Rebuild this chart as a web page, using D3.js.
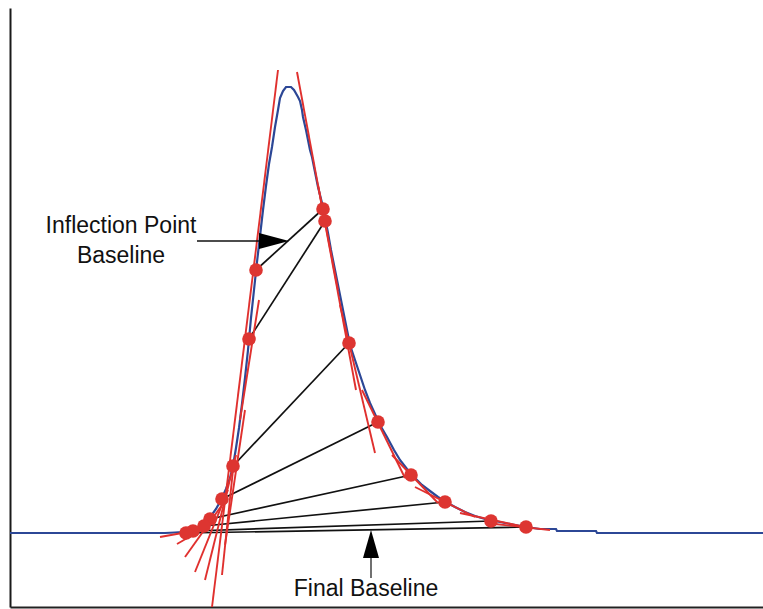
<!DOCTYPE html>
<html>
<head>
<meta charset="utf-8">
<script src="https://cdn.jsdelivr.net/npm/d3@7"></script>
<style>
  html, body { margin: 0; padding: 0; background: #fff; }
  svg { display: block; }
  text { font-family: "Liberation Sans", Arial, Helvetica, sans-serif; }
</style>
</head>
<body>
<svg id="chart" width="763" height="609"></svg>
<script>
// ---- data (time units on x, signal units on y; baseline = 0) ----
const signalX = [0, 15.5, 16.5, 17.2, 17.8, 18.5, 19.1, 19.6, 20.1, 20.6, 21.1, 21.6, 22.0, 22.3, 22.6, 22.9, 23.2, 23.5, 23.8, 24.1, 24.4, 24.7, 25.0, 25.3, 25.6, 25.9, 26.2, 26.5, 26.8, 27.0, 27.3, 27.6, 28.1, 28.4, 28.8, 29.0, 29.2, 29.3, 29.6, 29.8, 30.0, 30.2, 30.5, 30.8, 31.2, 31.5, 31.8, 32.1, 32.5, 32.9, 33.3, 33.7, 34.0, 34.5, 35.0, 35.5, 36.0, 36.5, 37.0, 37.7, 38.4, 39.0, 39.7, 40.4, 41.2, 42.0, 42.8, 43.6, 44.5, 45.5, 46.5, 47.5, 48.5, 49.5, 50.5, 51.6, 53.0, 54.6, 54.7, 58.6, 58.7, 75.3];
const signalY = [0, 0, 0.1, 0.2, 0.4, 0.8, 1.4, 2.2, 3.4, 4.8, 6.6, 8.8, 11.0, 13.4, 17.0, 21.0, 25.8, 31.0, 36.6, 43.0, 48.6, 54.2, 59.4, 64.6, 69.4, 73.8, 77.2, 81.2, 84.6, 87.0, 88.4, 89.2, 89.2, 88.6, 87.2, 86.4, 84.6, 83.2, 80.6, 78.6, 76.6, 75.2, 72.2, 69.2, 66.0, 63.0, 60.0, 56.6, 52.6, 48.6, 44.6, 40.6, 37.6, 34.6, 31.6, 28.6, 26.0, 23.8, 21.6, 19.2, 16.6, 14.6, 12.8, 11.2, 9.6, 8.4, 7.2, 6.2, 5.2, 4.2, 3.4, 2.8, 2.4, 2.0, 1.6, 1.2, 0.8, 0.8, 0.4, 0.4, 0, 0];

// candidate baseline end points (left side / right side of peak)
const leftPtX  = [24.6, 23.9, 22.3, 21.2, 20.0, 19.4, 18.3, 17.6];
const leftPtY  = [52.6, 38.8, 13.4, 6.8, 2.8, 1.4, 0.4, 0.0];
const rightPtX = [31.3, 31.5, 33.9, 36.8, 40.1, 43.5, 48.1, 51.6];
const rightPtY = [64.8, 62.4, 38.0, 22.2, 11.6, 6.2, 2.4, 1.2];

// tangent segments (x1, y1, x2, y2)
const tangentX1 = [26.8, 28.7, 24.9, 23.5, 22.6, 21.8, 21.2, 20.5, 20.0, 22.3, 30.8, 33.0, 35.2, 38.2, 40.5, 45.0, 48.5];
const tangentY1 = [92.6, 92.2, 46.6, 24.6, 15.6, 8.6, 5.6, 2.2, 1.0, 12.6, 69.6, 45.6, 28.6, 15.6, 9.2, 4.0, 1.8];
const tangentX2 = [20.2, 34.6, 23.0, 21.5, 19.5, 18.5, 17.5, 16.7, 15.0, 21.2, 32.8, 36.5, 39.5, 42.8, 46.5, 51.5, 54.0];
const tangentY2 = [-14.8, 28.6, 22.6, -2.4, -9.4, -7.8, -4.8, -2.2, -0.8, -8.4, 48.6, 16.0, 11.0, 6.0, 3.2, 1.2, 0.6];

// annotations
const annoLabels = [["Inflection Point", "Baseline"], ["Final Baseline"]];
const annoTextX  = [11.1, 35.6];
const annoTextY  = [60.0, -12.6];

// ---- scales ----
const x = d3.scaleLinear().domain([0, 75.3]).range([10, 763]);
const y = d3.scaleLinear().domain([-14.8, 105]).range([607, 8]);

const svg = d3.select("#chart");

// frame axes (no ticks)
svg.append("g").attr("transform", `translate(${x(0)},0)`)
  .call(d3.axisLeft(y).tickValues([]).tickSizeOuter(0))
  .call(g => g.select(".domain").attr("stroke", "#1a1a1a").attr("stroke-width", 2));
svg.append("g").attr("transform", `translate(0,${y(-14.8)})`)
  .call(d3.axisBottom(x).tickValues([]).tickSizeOuter(0))
  .call(g => g.select(".domain").attr("stroke", "#222").attr("stroke-width", 2));

// signal
const sig = signalX.map((v, i) => [v, signalY[i]]);
svg.append("path")
  .datum(sig)
  .attr("fill", "none")
  .attr("stroke", "#2c4796")
  .attr("stroke-width", 2.2)
  .attr("d", d3.line().x(d => x(d[0])).y(d => y(d[1])));

// black candidate baselines
const pairs = leftPtX.map((v, i) => ({ x1: v, y1: leftPtY[i], x2: rightPtX[i], y2: rightPtY[i] }));
svg.append("g").selectAll("line").data(pairs).join("line")
  .attr("x1", d => x(d.x1)).attr("y1", d => y(d.y1))
  .attr("x2", d => x(d.x2)).attr("y2", d => y(d.y2))
  .attr("stroke", "#111").attr("stroke-width", 1.7);

// red tangents
const tans = tangentX1.map((v, i) => ({ x1: v, y1: tangentY1[i], x2: tangentX2[i], y2: tangentY2[i] }));
svg.append("g").selectAll("line").data(tans).join("line")
  .attr("x1", d => x(d.x1)).attr("y1", d => y(d.y1))
  .attr("x2", d => x(d.x2)).attr("y2", d => y(d.y2))
  .attr("stroke", "#e0302e").attr("stroke-width", 1.9);

// dots
const dots = leftPtX.map((v, i) => [v, leftPtY[i]]).concat(rightPtX.map((v, i) => [v, rightPtY[i]]));
svg.append("g").selectAll("circle").data(dots).join("circle")
  .attr("cx", d => x(d[0])).attr("cy", d => y(d[1])).attr("r", 6.8)
  .attr("fill", "#dd3531");

// annotations
const fs = 23;
annoLabels.forEach((lines, k) => {
  const t = svg.append("text")
    .attr("x", x(annoTextX[k])).attr("y", y(annoTextY[k]))
    .attr("text-anchor", "middle").attr("font-size", fs).attr("fill", "#111");
  lines.forEach((s, j) => t.append("tspan").attr("x", x(annoTextX[k])).attr("dy", j === 0 ? 0 : 30).text(s));
});

// inflection arrow (horizontal, pointing right)
const a1 = { sx: 18.7, tx: 27.9, yv: 58.4 };
svg.append("line").attr("x1", x(a1.sx)).attr("x2", x(a1.tx) - 30).attr("y1", y(a1.yv)).attr("y2", y(a1.yv))
  .attr("stroke", "#111").attr("stroke-width", 1.5);
svg.append("path")
  .attr("d", `M${x(a1.tx)},${y(a1.yv)} L${x(a1.tx) - 30},${y(a1.yv) - 8} L${x(a1.tx) - 30},${y(a1.yv) + 8} Z`)
  .attr("fill", "#000");

// final baseline arrow (vertical, pointing up)
const a2 = { xv: 36.1, tip: 0.6, stemEnd: -9.0 };
svg.append("line").attr("x1", x(a2.xv)).attr("x2", x(a2.xv)).attr("y1", y(a2.tip) + 28).attr("y2", y(a2.stemEnd))
  .attr("stroke", "#111").attr("stroke-width", 1.2);
svg.append("path")
  .attr("d", `M${x(a2.xv)},${y(a2.tip)} L${x(a2.xv) - 8},${y(a2.tip) + 28} L${x(a2.xv) + 8},${y(a2.tip) + 28} Z`)
  .attr("fill", "#000");
</script>
</body>
</html>
